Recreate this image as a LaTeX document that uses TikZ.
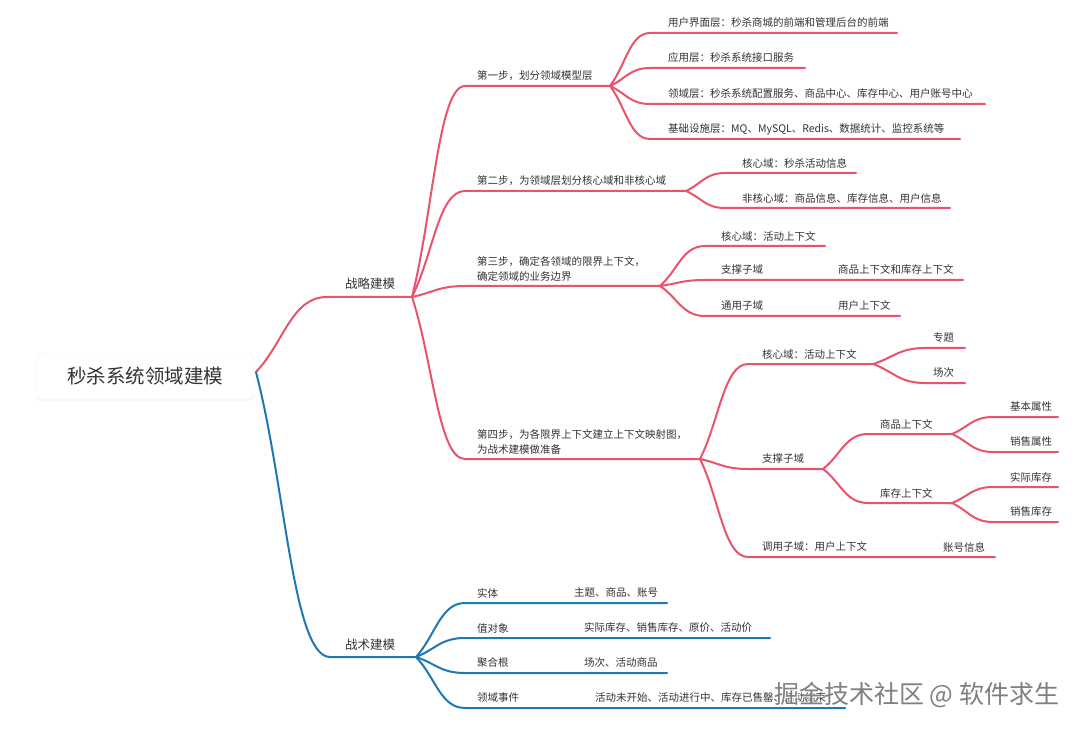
\documentclass[tikz,border=0pt]{standalone}
\usepackage{fontspec}
\setmainfont{Noto Sans CJK SC}
\usetikzlibrary{calc,shadows}
\definecolor{mmred}{HTML}{E8546B}
\definecolor{mmblue}{HTML}{1F78B4}
\definecolor{txt}{HTML}{333333}
\tikzset{
  mm/.style={to path={.. controls ($(\tikztostart)!0.4!(\tikztotarget)$) and ($(\tikztostart|-\tikztotarget)!0.5!(\tikztotarget)$) .. (\tikztotarget)}},
  lbl/.style={anchor=west, inner sep=0pt, text=txt, font=\fontsize{10.5}{13}\selectfont},
  lbl2/.style={anchor=west, inner sep=0pt, text=txt, align=left, font=\fontsize{10.5}{15.5}\selectfont},
  lblL/.style={anchor=west, inner sep=0pt, text=txt, font=\fontsize{12.5}{15}\selectfont},
  rootbox/.style={draw=black!6, fill=white, rounded corners=5pt, minimum width=218pt, minimum height=46pt,
    text=txt, font=\fontsize{19.5}{22}\selectfont, drop shadow={opacity=0.06, shadow xshift=0pt, shadow yshift=-2pt}},
  rb/.style={draw=mmred, line width=2pt, line cap=round},
  bb/.style={draw=mmblue, line width=2pt, line cap=round},
  wm/.style={anchor=west, inner sep=0pt, text=black!50, font=\fontsize{25}{28}\selectfont},
}
\begin{document}
\begin{tikzpicture}[x=1pt,y=-1pt]
\useasboundingbox (0,0) rectangle (1080,730);
\fill[white] (0,0) rectangle (1080,730);

% root
\node[rootbox] (root) at (145,376) {秒杀系统领域建模};
\coordinate (root-out) at (256,372);

% ===== strategic modelling =====
\coordinate (S-s) at (327,297); \coordinate (S-e) at (412,297);
\node[lblL] (S-l) at (345,284) {战略建模};
\draw[rb] (root-out) to[mm] (S-s) -- (S-e);

% step 1
\coordinate (A-s) at (465,86); \coordinate (A-e) at (610,86);
\node[lbl] (A-l) at (477,76) {第一步，划分领域模型层};
\draw[rb] (S-e) to[mm] (A-s) -- (A-e);

\coordinate (A1-s) at (650,33); \coordinate (A1-e) at (897,33);
\node[lbl] (A1-l) at (668,23) {用户界面层：秒杀商城的前端和管理后台的前端};
\draw[rb] (A-e) to[mm] (A1-s) -- (A1-e);
\coordinate (A2-s) at (650,68); \coordinate (A2-e) at (805,68);
\node[lbl] (A2-l) at (668,58) {应用层：秒杀系统接口服务};
\draw[rb] (A-e) to[mm] (A2-s) -- (A2-e);
\coordinate (A3-s) at (650,104); \coordinate (A3-e) at (985,104);
\node[lbl] (A3-l) at (668,94) {领域层：秒杀系统配置服务、商品中心、库存中心、用户账号中心};
\draw[rb] (A-e) to[mm] (A3-s) -- (A3-e);
\coordinate (A4-s) at (650,139); \coordinate (A4-e) at (960,139);
\node[lbl] (A4-l) at (668,129) {基础设施层：MQ、MySQL、Redis、数据统计、监控系统等};
\draw[rb] (A-e) to[mm] (A4-s) -- (A4-e);

% step 2
\coordinate (B-s) at (465,191); \coordinate (B-e) at (686,191);
\node[lbl] (B-l) at (477,181) {第二步，为领域层划分核心域和非核心域};
\draw[rb] (S-e) to[mm] (B-s) -- (B-e);
\coordinate (B1-s) at (725,173); \coordinate (B1-e) at (856,173);
\node[lbl] (B1-l) at (742,163) {核心域：秒杀活动信息};
\draw[rb] (B-e) to[mm] (B1-s) -- (B1-e);
\coordinate (B2-s) at (725,208); \coordinate (B2-e) at (950,208);
\node[lbl] (B2-l) at (742,198) {非核心域：商品信息、库存信息、用户信息};
\draw[rb] (B-e) to[mm] (B2-s) -- (B2-e);

% step 3
\coordinate (C-s) at (465,286); \coordinate (C-e) at (660,286);
\node[lbl2, anchor=south west] (C-l) at (477,282) {第三步，确定各领域的限界上下文，\\确定领域的业务边界};
\draw[rb] (S-e) to[mm] (C-s) -- (C-e);
\coordinate (C1-s) at (705,246); \coordinate (C1-e) at (825,246);
\node[lbl] (C1-l) at (721,236) {核心域：活动上下文};
\draw[rb] (C-e) to[mm] (C1-s) -- (C1-e);
\coordinate (C2-s) at (705,280); \coordinate (C2-e) at (963,280);
\node[lbl] (C2-l) at (721,270) {支撑子域};
\node[lbl] (C2-r) at (838,270) {商品上下文和库存上下文};
\draw[rb] (C-e) to[mm] (C2-s) -- (C2-e);
\coordinate (C3-s) at (705,316); \coordinate (C3-e) at (900,316);
\node[lbl] (C3-l) at (721,306) {通用子域};
\node[lbl] (C3-r) at (838,306) {用户上下文};
\draw[rb] (C-e) to[mm] (C3-s) -- (C3-e);

% step 4
\coordinate (D-s) at (465,459); \coordinate (D-e) at (700,459);
\node[lbl2, anchor=south west] (D-l) at (477,455) {第四步，为各限界上下文建立上下文映射图，\\为战术建模做准备};
\draw[rb] (S-e) to[mm] (D-s) -- (D-e);

\coordinate (D1-s) at (748,364); \coordinate (D1-e) at (873,364);
\node[lbl] (D1-l) at (762,354) {核心域：活动上下文};
\draw[rb] (D-e) to[mm] (D1-s) -- (D1-e);
\coordinate (D11-s) at (925,348); \coordinate (D11-e) at (965,348);
\node[lbl] (D11-l) at (933,338) {专题};
\draw[rb] (D1-e) to[mm] (D11-s) -- (D11-e);
\coordinate (D12-s) at (925,383); \coordinate (D12-e) at (965,383);
\node[lbl] (D12-l) at (933,373) {场次};
\draw[rb] (D1-e) to[mm] (D12-s) -- (D12-e);

\coordinate (D2-s) at (748,469); \coordinate (D2-e) at (823,469);
\node[lbl] (D2-l) at (762,459) {支撑子域};
\draw[rb] (D-e) to[mm] (D2-s) -- (D2-e);
\coordinate (D21-s) at (868,434); \coordinate (D21-e) at (952,434);
\node[lbl] (D21-l) at (880,424) {商品上下文};
\draw[rb] (D2-e) to[mm] (D21-s) -- (D21-e);
\coordinate (D211-s) at (993,417); \coordinate (D211-e) at (1058,417);
\node[lbl] (D211-l) at (1010,407) {基本属性};
\draw[rb] (D21-e) to[mm] (D211-s) -- (D211-e);
\coordinate (D212-s) at (993,452); \coordinate (D212-e) at (1058,452);
\node[lbl] (D212-l) at (1010,442) {销售属性};
\draw[rb] (D21-e) to[mm] (D212-s) -- (D212-e);
\coordinate (D22-s) at (868,503); \coordinate (D22-e) at (952,503);
\node[lbl] (D22-l) at (880,493) {库存上下文};
\draw[rb] (D2-e) to[mm] (D22-s) -- (D22-e);
\coordinate (D221-s) at (993,487); \coordinate (D221-e) at (1058,487);
\node[lbl] (D221-l) at (1010,477) {实际库存};
\draw[rb] (D22-e) to[mm] (D221-s) -- (D221-e);
\coordinate (D222-s) at (993,522); \coordinate (D222-e) at (1058,522);
\node[lbl] (D222-l) at (1010,512) {销售库存};
\draw[rb] (D22-e) to[mm] (D222-s) -- (D222-e);

\coordinate (D3-s) at (748,557); \coordinate (D3-e) at (995,557);
\node[lbl] (D3-l) at (762,547) {调用子域：用户上下文};
\node[lbl] (D3-r) at (943,547) {账号信息};
\draw[rb] (D-e) to[mm] (D3-s) -- (D3-e);

% ===== tactical modelling =====
\coordinate (T-s) at (330,657); \coordinate (T-e) at (416,657);
\node[lblL] (T-l) at (345,645) {战术建模};
\draw[bb] (root-out) to[mm] (T-s) -- (T-e);

\coordinate (T1-s) at (465,603); \coordinate (T1-e) at (667,603);
\node[lbl] (T1-l) at (477,593) {实体};
\node[lbl] (T1-r) at (574,593) {主题、商品、账号};
\draw[bb] (T-e) to[mm] (T1-s) -- (T1-e);
\coordinate (T2-s) at (465,638); \coordinate (T2-e) at (770,638);
\node[lbl] (T2-l) at (477,628) {值对象};
\node[lbl] (T2-r) at (584,628) {实际库存、销售库存、原价、活动价};
\draw[bb] (T-e) to[mm] (T2-s) -- (T2-e);
\coordinate (T3-s) at (465,673); \coordinate (T3-e) at (667,673);
\node[lbl] (T3-l) at (477,663) {聚合根};
\node[lbl] (T3-r) at (584,663) {场次、活动商品};
\draw[bb] (T-e) to[mm] (T3-s) -- (T3-e);
\coordinate (T4-s) at (465,708); \coordinate (T4-e) at (845,708);
\node[lbl] (T4-l) at (477,698) {领域事件};
\node[lbl] (T4-r) at (595,698) {活动未开始、活动进行中、库存已售罄、活动结束};
\draw[bb] (T-e) to[mm] (T4-s) -- (T4-e);

% watermark
\node[wm, text=white] at (775.5,696.5) {掘金技术社区 @ 软件求生};
\node[wm] (wm) at (774,695) {掘金技术社区 @ 软件求生};
\end{tikzpicture}
\end{document}
